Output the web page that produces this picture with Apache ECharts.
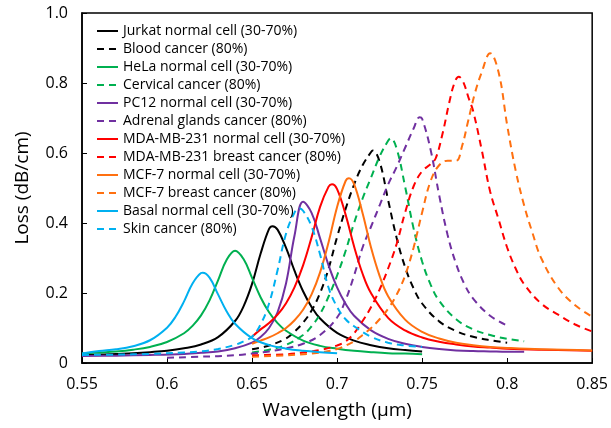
<!DOCTYPE html>
<html>
<head>
<meta charset="utf-8">
<script src="https://cdn.jsdelivr.net/npm/echarts@6/dist/echarts.min.js"></script>
<style>html,body{margin:0;padding:0;background:#fff;}#c{width:611px;height:428px;}</style>
</head>
<body>
<div id="c"></div>
<script>
const xTicks = [0.55, 0.6, 0.65, 0.7, 0.75, 0.8, 0.85];
const yTicks = [0, 0.2, 0.4, 0.6, 0.8, 1.0];

const jurkat = [[0.55,0.023],[0.56,0.024],[0.57,0.026],[0.58,0.028],[0.59,0.031],[0.60,0.035],[0.61,0.042],[0.62,0.053],[0.63,0.074],[0.64,0.120],[0.645,0.162],[0.65,0.226],[0.655,0.312],[0.66,0.383],[0.662,0.391],[0.665,0.381],[0.67,0.329],[0.675,0.263],[0.68,0.205],[0.685,0.160],[0.69,0.127],[0.70,0.086],[0.71,0.064],[0.72,0.051],[0.73,0.042],[0.74,0.037],[0.75,0.033]];
const blood = [[0.65,0.039],[0.66,0.05],[0.67,0.07],[0.675,0.09],[0.68,0.115],[0.685,0.15],[0.69,0.2],[0.695,0.27],[0.70,0.36],[0.705,0.44],[0.71,0.51],[0.715,0.565],[0.72,0.603],[0.721,0.607],[0.725,0.575],[0.73,0.466],[0.735,0.358],[0.74,0.274],[0.745,0.213],[0.75,0.170],[0.76,0.119],[0.77,0.091],[0.78,0.075],[0.79,0.065],[0.80,0.058]];
const hela = [[0.55,0.027],[0.56,0.030],[0.57,0.033],[0.58,0.038],[0.59,0.046],[0.60,0.060],[0.61,0.085],[0.615,0.106],[0.62,0.136],[0.625,0.179],[0.63,0.236],[0.635,0.294],[0.64,0.321],[0.645,0.297],[0.65,0.243],[0.655,0.188],[0.66,0.145],[0.665,0.114],[0.67,0.092],[0.68,0.064],[0.69,0.049],[0.70,0.041],[0.71,0.035],[0.72,0.031],[0.73,0.028],[0.74,0.027],[0.75,0.025]];
const cervical = [[0.65,0.03],[0.66,0.038],[0.67,0.052],[0.68,0.08],[0.685,0.105],[0.69,0.14],[0.695,0.19],[0.70,0.25],[0.705,0.32],[0.71,0.40],[0.715,0.47],[0.72,0.53],[0.725,0.59],[0.73,0.635],[0.7315,0.642],[0.735,0.613],[0.74,0.504],[0.745,0.384],[0.75,0.29],[0.755,0.224],[0.76,0.178],[0.77,0.125],[0.78,0.096],[0.79,0.080],[0.80,0.069],[0.81,0.062]];
const pc12 = [[0.55,0.020],[0.57,0.021],[0.59,0.023],[0.61,0.026],[0.62,0.029],[0.63,0.033],[0.64,0.042],[0.65,0.058],[0.655,0.074],[0.66,0.100],[0.665,0.145],[0.67,0.228],[0.675,0.365],[0.68,0.461],[0.685,0.429],[0.69,0.356],[0.695,0.279],[0.70,0.216],[0.705,0.169],[0.71,0.135],[0.72,0.093],[0.73,0.069],[0.74,0.055],[0.75,0.046],[0.76,0.040],[0.77,0.036],[0.78,0.034],[0.79,0.033],[0.80,0.032],[0.81,0.032]];
const adrenal = [[0.60,0.015],[0.62,0.018],[0.64,0.022],[0.65,0.027],[0.66,0.033],[0.67,0.042],[0.68,0.055],[0.69,0.08],[0.70,0.13],[0.705,0.18],[0.71,0.25],[0.715,0.33],[0.72,0.39],[0.725,0.45],[0.73,0.51],[0.735,0.56],[0.74,0.615],[0.745,0.67],[0.7485,0.702],[0.75,0.698],[0.755,0.609],[0.76,0.48],[0.765,0.366],[0.77,0.283],[0.775,0.224],[0.78,0.184],[0.79,0.135],[0.80,0.107]];
const mdaNormal = [[0.65,0.075],[0.655,0.096],[0.66,0.114],[0.665,0.138],[0.67,0.171],[0.675,0.217],[0.68,0.279],[0.685,0.359],[0.69,0.446],[0.695,0.504],[0.697,0.511],[0.70,0.497],[0.705,0.424],[0.71,0.333],[0.715,0.255],[0.72,0.199],[0.73,0.129],[0.74,0.093],[0.75,0.073],[0.76,0.061],[0.77,0.053],[0.78,0.047],[0.79,0.044],[0.80,0.041],[0.82,0.038],[0.85,0.035]];
const mdaBreast = [[0.65,0.022],[0.67,0.025],[0.68,0.03],[0.69,0.037],[0.70,0.05],[0.705,0.062],[0.71,0.085],[0.715,0.12],[0.72,0.16],[0.725,0.21],[0.73,0.27],[0.735,0.34],[0.74,0.43],[0.745,0.505],[0.75,0.548],[0.755,0.568],[0.758,0.585],[0.762,0.655],[0.766,0.745],[0.769,0.80],[0.7715,0.818],[0.774,0.805],[0.7775,0.755],[0.78,0.72],[0.785,0.61],[0.79,0.49],[0.795,0.41],[0.80,0.33],[0.805,0.27],[0.81,0.225],[0.82,0.17],[0.83,0.138],[0.84,0.11],[0.85,0.09]];
const mcfNormal = [[0.65,0.055],[0.655,0.064],[0.66,0.073],[0.665,0.085],[0.67,0.100],[0.675,0.122],[0.68,0.152],[0.685,0.196],[0.69,0.259],[0.695,0.345],[0.70,0.446],[0.705,0.520],[0.707,0.528],[0.71,0.511],[0.715,0.428],[0.72,0.329],[0.725,0.249],[0.73,0.191],[0.74,0.124],[0.75,0.089],[0.76,0.070],[0.77,0.058],[0.78,0.051],[0.79,0.046],[0.80,0.043],[0.82,0.039],[0.85,0.036]];
const mcfBreast = [[0.65,0.018],[0.67,0.022],[0.69,0.03],[0.70,0.04],[0.71,0.062],[0.715,0.08],[0.72,0.10],[0.725,0.125],[0.73,0.155],[0.735,0.195],[0.74,0.25],[0.745,0.33],[0.75,0.43],[0.755,0.52],[0.76,0.565],[0.765,0.578],[0.77,0.578],[0.7735,0.62],[0.777,0.69],[0.781,0.77],[0.785,0.83],[0.79,0.885],[0.795,0.83],[0.80,0.68],[0.805,0.55],[0.81,0.45],[0.815,0.37],[0.82,0.30],[0.83,0.215],[0.84,0.165],[0.85,0.132]];
const basal = [[0.55,0.027],[0.56,0.034],[0.57,0.039],[0.58,0.048],[0.59,0.065],[0.60,0.101],[0.605,0.132],[0.61,0.176],[0.615,0.227],[0.62,0.257],[0.621,0.258],[0.625,0.244],[0.63,0.196],[0.635,0.148],[0.64,0.112],[0.65,0.071],[0.66,0.051],[0.67,0.041],[0.68,0.035],[0.69,0.031],[0.70,0.028]];
const skin = [[0.55,0.023],[0.57,0.024],[0.59,0.026],[0.61,0.03],[0.62,0.033],[0.63,0.04],[0.64,0.052],[0.645,0.062],[0.65,0.075],[0.655,0.11],[0.66,0.17],[0.665,0.265],[0.67,0.37],[0.675,0.43],[0.6775,0.442],[0.68,0.435],[0.685,0.39],[0.69,0.31],[0.695,0.215],[0.70,0.16],[0.705,0.125],[0.71,0.105],[0.72,0.075],[0.73,0.058],[0.74,0.05],[0.75,0.046]];

const names = ['Jurkat normal cell (30-70%)','Blood cancer (80%)','HeLa normal cell (30-70%)','Cervical cancer (80%)','PC12 normal cell (30-70%)','Adrenal glands cancer (80%)','MDA-MB-231 normal cell (30-70%)','MDA-MB-231 breast cancer (80%)','MCF-7 normal cell (30-70%)','MCF-7 breast cancer (80%)','Basal normal cell (30-70%)','Skin cancer (80%)'];
const datasets = [jurkat, blood, hela, cervical, pc12, adrenal, mdaNormal, mdaBreast, mcfNormal, mcfBreast, basal, skin];
const colors = ['#000000','#000000','#00b050','#00b050','#7030a0','#7030a0','#ff0000','#ff0000','#ff7010','#ff7010','#00b0f0','#00b0f0'];
const dashed = [false,true,false,true,false,true,false,true,false,true,false,true];

const FONT = 'Open Sans';
const chart = echarts.init(document.getElementById('c'));
chart.setOption({
  animation: false,
  backgroundColor: '#fff',
  grid: { left: 82, right: 17, top: 13, bottom: 65, show: true, borderColor: '#000', borderWidth: 1.5, backgroundColor: 'transparent' },
  legend: {
    data: names, orient: 'vertical', left: 91, top: 19,
    itemWidth: 21, itemHeight: 14, itemGap: 4,
    itemStyle: { opacity: 0 },
    textStyle: { fontFamily: FONT, fontSize: 14, color: '#000' }
  },
  xAxis: {
    type: 'value', min: 0.55, max: 0.85, interval: 0.05,
    name: 'Wavelength (μm)', nameLocation: 'middle', nameGap: 38,
    nameTextStyle: { fontFamily: FONT, fontSize: 19, color: '#000' },
    axisLine: { show: true, lineStyle: { color: '#000', width: 1.5 } },
    axisTick: { show: true, inside: true, length: 5, lineStyle: { color: '#000', width: 1 } },
    axisLabel: { fontFamily: FONT, fontSize: 16, color: '#000', margin: 13,
      formatter: v => { const t = xTicks.find(x => Math.abs(x - v) < 1e-6); return t === undefined ? '' : String(t); } },
    splitLine: { show: false }
  },
  yAxis: {
    type: 'value', min: 0, max: 1, interval: 0.2,
    name: 'Loss (dB/cm)', nameLocation: 'middle', nameGap: 50,
    nameTextStyle: { fontFamily: FONT, fontSize: 19, color: '#000' },
    axisLine: { show: true, lineStyle: { color: '#000', width: 1.5 } },
    axisTick: { show: true, inside: true, length: 5, lineStyle: { color: '#000', width: 1 } },
    axisLabel: { fontFamily: FONT, fontSize: 16, color: '#000', margin: 14,
      formatter: v => { const t = yTicks.find(y => Math.abs(y - v) < 1e-6); if (t === undefined) return ''; return t === 0 ? '0' : t.toFixed(1); } },
    splitLine: { show: false }
  },
  series: datasets.map((d, i) => ({
    name: names[i], type: 'line', data: d, smooth: 0.4, symbol: 'none',
    lineStyle: { color: colors[i], width: 2, type: dashed[i] ? [7, 5] : 'solid' },
    itemStyle: { color: colors[i] }
  }))
});
</script>
</body>
</html>
